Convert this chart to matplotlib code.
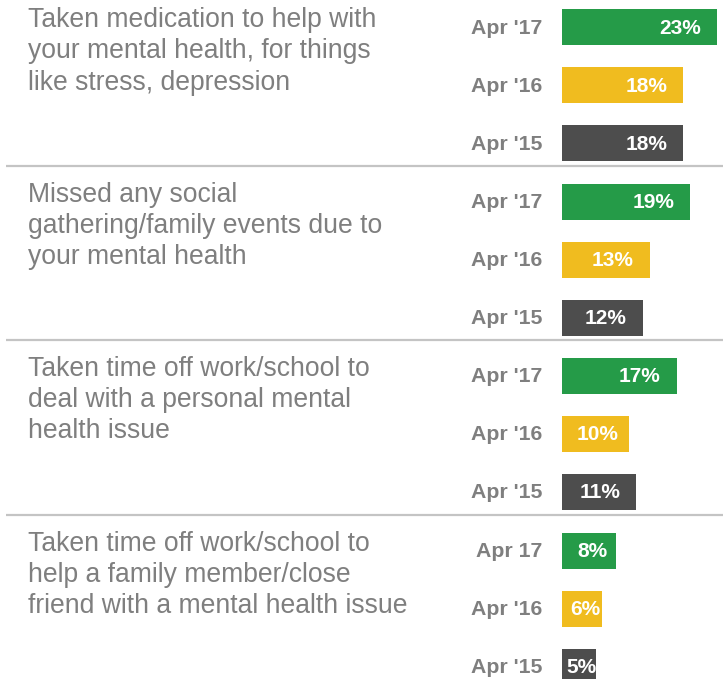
"""
Recreates the grouped horizontal bar chart of mental health actions, Apr '15 to Apr '17.
"""

import matplotlib

matplotlib.use("Agg")

import matplotlib.pyplot as plt


CATEGORIES = [
    "Taken medication to help with\nyour mental health, for things\nlike stress, depression",
    "Missed any social\ngathering/family events due to\nyour mental health",
    "Taken time off work/school to\ndeal with a personal mental\nhealth issue",
    "Taken time off work/school to\nhelp a family member/close\nfriend with a mental health issue",
]

# One label list per group: the last group has "Apr 17" without the apostrophe.
PERIOD_LABELS = [
    ["Apr '17", "Apr '16", "Apr '15"],
    ["Apr '17", "Apr '16", "Apr '15"],
    ["Apr '17", "Apr '16", "Apr '15"],
    ["Apr 17", "Apr '16", "Apr '15"],
]

APR_17 = [23, 19, 17, 8]
APR_16 = [18, 13, 10, 6]
APR_15 = [18, 12, 11, 5]

SERIES_COLORS = ["#259b48", "#f0bc1f", "#4d4d4d"]
TEXT_GREY = "#7f7f7f"
RULE_GREY = "#c4c4c4"

# Layout in pixels of the 723x679 canvas.
WIDTH_PX, HEIGHT_PX = 723, 679
BAR_X0 = 562
PX_PER_PCT = 6.74
FIRST_ROW_Y = 27
ROW_PITCH = 58
GROUP_PITCH = 174.5
BAR_HEIGHT = 36
TEXT_LINE_PX = 31

plt.rcParams["font.family"] = ["Liberation Sans", "DejaVu Sans"]

fig = plt.figure(figsize=(WIDTH_PX / 100, HEIGHT_PX / 100), dpi=100)
ax = fig.add_axes((0, 0, 1, 1))
ax.set_xlim(-BAR_X0 / PX_PER_PCT, (WIDTH_PX - BAR_X0) / PX_PER_PCT)
ax.set_ylim(HEIGHT_PX, 0)
ax.axis("off")
renderer = fig.canvas.get_renderer()


def px_to_x(px):
    return (px - BAR_X0) / PX_PER_PCT


series = [APR_17, APR_16, APR_15]

for g, category in enumerate(CATEGORIES):
    group_top = FIRST_ROW_Y + g * GROUP_PITCH

    # Baseline alignment follows the last line here, so step down from line one.
    n_lines = category.count("\n") + 1
    ax.text(px_to_x(28), group_top + 0.5 + (n_lines - 1) * TEXT_LINE_PX,
            category, ha="left", va="baseline", fontsize=19.1,
            color=TEXT_GREY, linespacing=1.26)

    for r, values in enumerate(series):
        y = group_top + r * ROW_PITCH
        value = values[g]
        bar = ax.barh(y, value, height=BAR_HEIGHT, color=SERIES_COLORS[r],
                      edgecolor="none")[0]

        ax.text(px_to_x(542), y + 1, PERIOD_LABELS[g][r], ha="right",
                va="center", fontsize=15.3, fontweight="bold", color=TEXT_GREY)

        # Labels sit 16 px inside the bar end; short bars keep them off the start.
        bar_px = value * PX_PER_PCT
        label = ax.text(value - 16 / PX_PER_PCT, y + 1, f"{value}%",
                        ha="right", va="center", fontsize=15,
                        fontweight="bold", color="white")
        left_px = label.get_window_extent(renderer).x0
        min_left = BAR_X0 + min(15, 0.6 * bar_px - 16)
        if left_px < min_left:
            label.set_x(px_to_x(min_left))
            label.set_ha("left")
        label.set_clip_path(bar)

    if g < len(CATEGORIES) - 1:
        rule_y = group_top + 2 * ROW_PITCH + 22.5
        ax.plot([px_to_x(6), px_to_x(WIDTH_PX)], [rule_y, rule_y],
                color=RULE_GREY, linewidth=1.6, solid_capstyle="butt")

fig.savefig("out.png", dpi=100)
